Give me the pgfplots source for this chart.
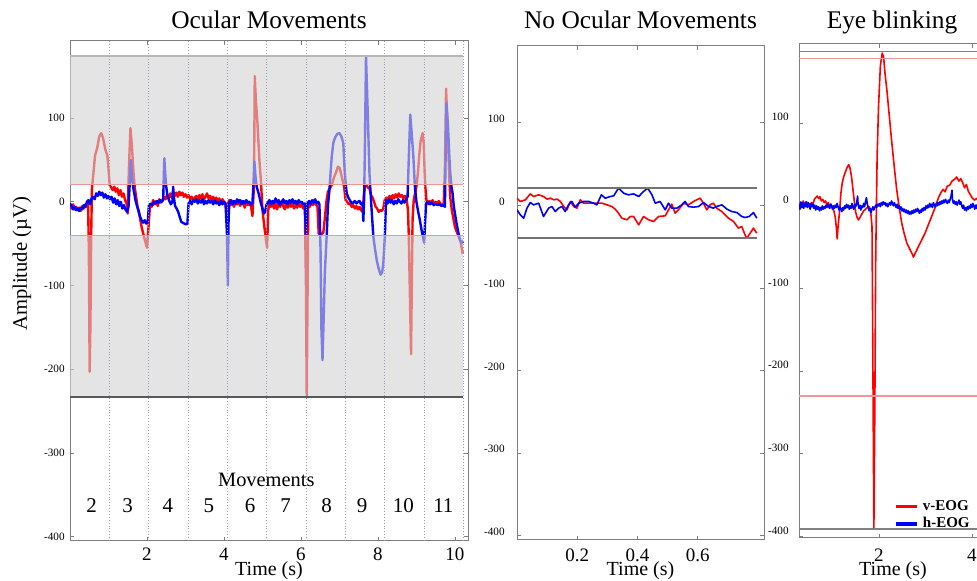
\documentclass[border=0pt]{standalone}
\usepackage{fontspec}
\setmainfont{Liberation Serif}
\usepackage{pgfplots}
\pgfplotsset{compat=1.18}

\definecolor{vred}{RGB}{255,0,0}
\definecolor{hblue}{RGB}{0,0,255}
\definecolor{thr}{RGB}{240,150,150}
\definecolor{shade}{RGB}{210,210,210}
\definecolor{frame}{RGB}{125,125,125}
\definecolor{divider}{RGB}{165,150,190}

\pgfplotsset{
  eog/.style={
    scale only axis,
    axis line style={frame, line width=0.5pt},
    tick style={frame, line width=0.4pt},
    major tick length=2pt,
    ytick={-400,-300,-200,-100,0,100},
    yticklabels={-400,-300,-200,-100,0,100},
    yticklabel style={font=\fontsize{5.6}{6}\selectfont, anchor=east, inner sep=0pt},
    xticklabel style={font=\fontsize{9.5}{10}\selectfont, anchor=base, inner sep=0pt},
    every axis title/.style={anchor=base, font=\fontsize{12.7}{14}\selectfont},
    every axis x label/.style={anchor=base, font=\fontsize{10}{12}\selectfont},
    xlabel={Time (s)},
  },
  sig/.style={line width=1.2pt, line join=round},
}

\begin{document}
\begin{tikzpicture}

% ---------------- Ocular Movements ----------------
\begin{axis}[eog,
  at={(35pt,20pt)}, anchor=south west,
  width=199pt, height=250pt,
  xmin=0, xmax=10.34, ymin=-405, ymax=192,
  xtick={2,4,6,8,10}, xticklabels={2,4,6,8,10},
  xticklabel style={yshift=-9.8pt},
  yticklabel style={xshift=-2.5pt},
  title={Ocular Movements},
  title style={at={(0.5,1)}, yshift=6pt},
  xlabel style={at={(0.5,0)}, yshift=-17.5pt},
  ylabel={Amplitude (µV)},
  every axis y label/.style={at={(-0.1206,0.554)}, rotate=90, anchor=center, font=\fontsize{10.3}{12}\selectfont},
]
\addplot[sig, vred] coordinates {
(0.00,-4)(0.04,-8)(0.08,-3)(0.12,-9)(0.16,-6)(0.20,-10)(0.24,-7)(0.28,-11)(0.32,-5)(0.36,-8)(0.40,-3)(0.44,-6)(0.47,-2)(0.49,-60)(0.51,-203)(0.53,-150)(0.55,-40)(0.57,15)(0.60,30)(0.65,55)(0.71,65)(0.76,78)(0.81,82)(0.86,76)(0.92,62)(0.97,55)(1.00,40)(1.03,20)(1.07,17)(1.11,14)(1.15,18)(1.19,12)(1.23,16)(1.27,8)(1.31,14)(1.35,6)(1.39,10)(1.43,2)(1.47,-2)(1.50,-14)(1.53,40)(1.57,88)(1.61,65)(1.65,35)(1.68,18)(1.72,5)(1.76,-8)(1.81,-17)(1.86,-30)(1.94,-45)(2.00,-55)(2.04,-30)(2.08,-3)(2.12,-6)(2.16,2)(2.20,-3)(2.24,1)(2.28,-5)(2.32,3)(2.36,-1)(2.40,2)(2.44,6)(2.48,3)(2.52,8)(2.56,4)(2.60,10)(2.64,5)(2.68,12)(2.72,7)(2.76,11)(2.80,6)(2.84,12)(2.88,8)(2.92,11)(2.96,6)(3.00,9)(3.04,5)(3.08,8)(3.12,3)(3.16,6)(3.20,1)(3.24,5)(3.28,7)(3.32,2)(3.36,8)(3.40,4)(3.44,9)(3.48,3)(3.52,6)(3.56,10)(3.60,4)(3.64,7)(3.68,2)(3.72,6)(3.76,1)(3.80,5)(3.84,0)(3.88,4)(3.92,-1)(3.96,3)(4.00,0)(4.04,-3)(4.07,-12)(4.10,-2)(4.14,2)(4.18,-4)(4.22,1)(4.26,-6)(4.30,0)(4.34,-3)(4.38,2)(4.42,-5)(4.46,1)(4.50,-2)(4.54,-7)(4.58,0)(4.62,-4)(4.66,-1)(4.70,-5)(4.74,-17)(4.78,20)(4.80,150)(4.83,120)(4.87,94)(4.92,50)(4.96,25)(5.00,-10)(5.05,-30)(5.09,-45)(5.12,-55)(5.15,-10)(5.18,-2)(5.22,-6)(5.26,0)(5.30,-8)(5.34,-3)(5.38,-9)(5.42,-2)(5.46,-6)(5.50,1)(5.54,-5)(5.58,-9)(5.62,-3)(5.66,-7)(5.70,-1)(5.74,-6)(5.78,-2)(5.82,-8)(5.86,-4)(5.90,-7)(5.94,-2)(5.98,-6)(6.02,-3)(6.06,-8)(6.10,-4)(6.13,-100)(6.15,-233)(6.17,-120)(6.19,-2)(6.23,-6)(6.27,0)(6.31,-4)(6.35,2)(6.39,-3)(6.43,-6)(6.46,-38)(6.50,-39)(6.55,-38)(6.58,-37)(6.62,-20)(6.66,0)(6.70,12)(6.75,16)(6.80,20)(6.85,28)(6.91,35)(6.96,42)(7.01,40)(7.06,30)(7.12,18)(7.16,2)(7.20,0)(7.24,-3)(7.28,-2)(7.32,-6)(7.36,-4)(7.40,-8)(7.44,-5)(7.48,-9)(7.52,-6)(7.56,-10)(7.60,-12)(7.63,5)(7.66,18)(7.70,20)(7.74,17)(7.78,16)(7.82,8)(7.86,5)(7.90,0)(7.94,-6)(7.98,-8)(8.02,-12)(8.06,-10)(8.10,-11)(8.14,-8)(8.18,3)(8.22,5)(8.26,2)(8.30,7)(8.34,3)(8.38,8)(8.42,4)(8.46,9)(8.50,5)(8.54,10)(8.58,6)(8.62,8)(8.66,4)(8.70,7)(8.74,5)(8.78,-10)(8.80,-38)(8.83,-110)(8.86,-182)(8.88,-100)(8.90,-20)(8.93,2)(9.00,18)(9.04,35)(9.07,54)(9.11,73)(9.16,82)(9.19,70)(9.21,40)(9.23,18)(9.26,2)(9.30,-3)(9.34,1)(9.38,-2)(9.42,2)(9.46,-4)(9.50,0)(9.54,-3)(9.58,1)(9.62,-2)(9.66,-4)(9.71,-2)(9.74,40)(9.77,135)(9.81,90)(9.85,30)(9.88,5)(9.92,-10)(9.96,-20)(10.00,-30)(10.04,-35)(10.10,-42)(10.15,-48)(10.20,-62)
};
\addplot[sig, hblue] coordinates {
(0.00,-2)(0.04,-5)(0.08,-9)(0.12,-6)(0.16,-10)(0.20,-8)(0.24,-11)(0.28,-7)(0.32,-9)(0.36,-4)(0.40,-6)(0.44,0)(0.48,2)(0.52,-3)(0.56,4)(0.60,6)(0.64,3)(0.68,10)(0.72,7)(0.76,12)(0.80,8)(0.84,11)(0.88,5)(0.92,9)(0.96,4)(1.00,7)(1.04,3)(1.08,6)(1.12,-1)(1.16,4)(1.20,-3)(1.24,2)(1.28,-5)(1.32,0)(1.36,-8)(1.40,-4)(1.44,-9)(1.48,-12)(1.52,-6)(1.55,20)(1.58,50)(1.61,30)(1.64,18)(1.67,10)(1.70,2)(1.74,-5)(1.78,-10)(1.82,-18)(1.86,-22)(1.90,-25)(1.94,-22)(1.98,-26)(2.02,-24)(2.05,-4)(2.10,-2)(2.14,-4)(2.18,0)(2.22,-2)(2.26,1)(2.30,-1)(2.34,2)(2.38,0)(2.42,2)(2.45,52)(2.48,30)(2.50,18)(2.53,8)(2.57,2)(2.62,-3)(2.66,0)(2.68,18)(2.70,5)(2.73,-5)(2.77,-8)(2.81,-12)(2.85,-18)(2.89,-24)(2.93,-25)(2.97,-26)(3.01,-27)(3.05,-26)(3.08,-2)(3.12,1)(3.16,-3)(3.20,2)(3.24,0)(3.28,3)(3.32,-2)(3.36,2)(3.40,-1)(3.44,3)(3.48,-3)(3.52,1)(3.56,-2)(3.60,2)(3.64,-1)(3.68,1)(3.72,-3)(3.76,2)(3.80,-2)(3.84,0)(3.88,-4)(3.92,1)(3.96,-3)(4.00,0)(4.04,-2)(4.08,-40)(4.10,-100)(4.12,-20)(4.14,-1)(4.18,2)(4.22,-3)(4.26,1)(4.30,-2)(4.34,3)(4.38,-1)(4.42,2)(4.46,-3)(4.50,1)(4.54,-2)(4.58,2)(4.62,-1)(4.66,0)(4.70,-4)(4.74,-1)(4.77,25)(4.79,48)(4.82,30)(4.85,18)(4.90,10)(4.95,0)(5.00,-8)(5.04,-14)(5.07,-12)(5.10,-4)(5.14,-1)(5.18,2)(5.22,-3)(5.26,1)(5.30,-2)(5.34,4)(5.38,-1)(5.42,2)(5.46,-4)(5.50,0)(5.54,3)(5.58,-2)(5.62,1)(5.66,-3)(5.70,2)(5.74,-1)(5.78,3)(5.82,-2)(5.86,1)(5.90,-3)(5.94,2)(5.98,-1)(6.02,0)(6.06,-3)(6.10,-2)(6.13,-39)(6.15,-20)(6.17,-2)(6.21,1)(6.25,-3)(6.29,2)(6.33,-1)(6.37,3)(6.41,-2)(6.45,0)(6.48,-3)(6.51,-60)(6.53,-150)(6.56,-189)(6.59,-140)(6.62,-85)(6.67,-39)(6.70,-5)(6.74,14)(6.77,35)(6.80,54)(6.84,70)(6.88,76)(6.94,81)(7.00,82)(7.05,78)(7.10,70)(7.12,50)(7.14,34)(7.17,18)(7.19,10)(7.23,5)(7.27,2)(7.32,-2)(7.36,-1)(7.40,1)(7.44,-2)(7.48,0)(7.52,1)(7.56,-3)(7.60,-1)(7.62,-23)(7.64,2)(7.66,60)(7.69,174)(7.73,114)(7.78,34)(7.82,2)(7.85,-20)(7.88,-41)(7.92,-55)(7.97,-70)(8.02,-80)(8.07,-87)(8.11,-84)(8.14,-73)(8.18,-41)(8.21,2)(8.25,-2)(8.29,3)(8.33,-1)(8.37,2)(8.41,-3)(8.45,1)(8.49,-2)(8.53,3)(8.57,0)(8.61,-2)(8.65,2)(8.69,-1)(8.73,3)(8.77,6)(8.80,50)(8.84,104)(8.88,80)(8.92,54)(8.96,18)(9.00,0)(9.05,-13)(9.09,-22)(9.13,-33)(9.17,-42)(9.20,-49)(9.23,-20)(9.25,-2)(9.31,0)(9.35,-3)(9.40,-1)(9.45,-4)(9.50,-2)(9.55,-4)(9.60,-3)(9.65,-5)(9.70,-4)(9.74,-6)(9.76,60)(9.78,118)(9.82,90)(9.87,40)(9.91,18)(9.94,10)(9.97,-5)(10.00,-14)(10.04,-25)(10.09,-37)(10.13,-45)(10.17,-49)(10.22,-47)
};
% shaded zones outside the threshold band
\addplot[draw=none, fill=shade, fill opacity=0.6] coordinates {(0,20.5)(10.22,20.5)(10.22,174)(0,174)} -- cycle;
\addplot[draw=none, fill=shade, fill opacity=0.6] coordinates {(0,-40)(10.22,-40)(10.22,-233)(0,-233)} -- cycle;
\addplot[thr, line width=0.6pt] coordinates {(0,20.5)(10.22,20.5)};
\addplot[thr, line width=0.6pt] coordinates {(0,-40)(10.22,-40)};
\addplot[black!28, line width=1pt] coordinates {(0,174)(10.22,174)};
\addplot[black!65, line width=0.6pt] coordinates {(0,-233)(10.22,-233)};
% movement dividers
\addplot[divider, densely dotted, line width=0.45pt, unbounded coords=jump] coordinates {
(1.022,-405)(1.022,192)(nan,nan)(2.044,-405)(2.044,192)(nan,nan)(3.066,-405)(3.066,192)(nan,nan)
(4.088,-405)(4.088,192)(nan,nan)(5.110,-405)(5.110,192)(nan,nan)(6.132,-405)(6.132,192)(nan,nan)
(7.154,-405)(7.154,192)(nan,nan)(8.176,-405)(8.176,192)(nan,nan)(9.198,-405)(9.198,192)(nan,nan)
(10.22,-405)(10.22,192)
};
\node[anchor=base, font=\fontsize{10.2}{12}\selectfont] at (axis cs:5.1,-340) {Movements};
\node[anchor=base, font=\fontsize{10.5}{12}\selectfont] at (axis cs:0.56,-371) {2};
\node[anchor=base, font=\fontsize{10.5}{12}\selectfont] at (axis cs:1.50,-371) {3};
\node[anchor=base, font=\fontsize{10.5}{12}\selectfont] at (axis cs:2.54,-371) {4};
\node[anchor=base, font=\fontsize{10.5}{12}\selectfont] at (axis cs:3.61,-371) {5};
\node[anchor=base, font=\fontsize{10.5}{12}\selectfont] at (axis cs:4.68,-371) {6};
\node[anchor=base, font=\fontsize{10.5}{12}\selectfont] at (axis cs:5.60,-371) {7};
\node[anchor=base, font=\fontsize{10.5}{12}\selectfont] at (axis cs:6.67,-371) {8};
\node[anchor=base, font=\fontsize{10.5}{12}\selectfont] at (axis cs:7.59,-371) {9};
\node[anchor=base, font=\fontsize{10.5}{12}\selectfont] at (axis cs:8.66,-371) {10};
\node[anchor=base, font=\fontsize{10.5}{12}\selectfont] at (axis cs:9.70,-371) {11};
\end{axis}

% ---------------- No Ocular Movements ----------------
\begin{axis}[eog,
  at={(258.5pt,20.5pt)}, anchor=south west,
  width=123.5pt, height=247pt,
  xmin=0, xmax=0.82, ymin=-405, ymax=193,
  xtick={0.2,0.4,0.6}, xticklabels={0.2,0.4,0.6},
  xticklabel style={yshift=-10.8pt},
  yticklabel style={xshift=-6pt, yshift=2pt},
  title={No Ocular Movements},
  title style={at={(0.5,1)}, yshift=8.5pt},
  xlabel style={at={(0.5,0)}, yshift=-18pt},
]
\addplot[vred, line width=0.8pt, line join=round] coordinates {
(0.000,8.8)(0.011,4.8)(0.028,6.8)(0.044,14.0)(0.055,10.8)(0.072,12.8)(0.088,10.8)(0.100,7.6)(0.111,8.8)(0.122,6.8)(0.133,7.6)(0.144,4.8)(0.155,-1.3)(0.166,-5.3)(0.177,4.8)(0.188,-1.3)(0.199,-3.3)(0.210,6.8)(0.221,2.7)(0.232,2.7)(0.249,2.7)(0.265,2.7)(0.282,2.7)(0.299,0.7)(0.315,-1.3)(0.326,-4.5)(0.337,-9.4)(0.348,-15.4)(0.365,-17.4)(0.376,-13.4)(0.387,-13.4)(0.404,-23.5)(0.420,-13.4)(0.437,-17.4)(0.453,-19.5)(0.470,-13.4)(0.492,-12.6)(0.503,-5.3)(0.514,1.5)(0.525,-9.4)(0.536,-5.3)(0.553,2.7)(0.569,0.7)(0.586,4.8)(0.597,6.8)(0.608,8.8)(0.619,2.7)(0.630,-5.3)(0.641,0.7)(0.652,2.7)(0.663,-3.3)(0.680,-7.4)(0.702,-15.4)(0.719,-19.5)(0.735,-27.5)(0.746,-25.5)(0.757,-35.6)(0.763,-39.6)(0.774,-33.6)(0.785,-27.5)(0.796,-33.6)
};
\addplot[hblue, line width=0.8pt, line join=round] coordinates {
(0.000,-5.3)(0.011,-11.4)(0.022,-15.4)(0.033,-3.3)(0.044,3.5)(0.055,0.7)(0.072,2.7)(0.088,-13.4)(0.105,-3.3)(0.116,-1.3)(0.127,-7.4)(0.138,-3.3)(0.149,-1.3)(0.160,-7.4)(0.171,0.7)(0.182,4.8)(0.193,-2.1)(0.205,2.7)(0.221,4.8)(0.238,4.8)(0.254,2.7)(0.265,0.7)(0.280,12.8)(0.293,8.8)(0.310,10.8)(0.321,11.6)(0.337,20.9)(0.354,14.8)(0.370,12.8)(0.387,14.0)(0.404,10.8)(0.420,16.9)(0.434,20.9)(0.448,12.8)(0.459,2.7)(0.475,4.8)(0.492,-5.3)(0.503,2.7)(0.514,-3.3)(0.531,-3.3)(0.547,0.7)(0.558,4.8)(0.569,-1.3)(0.586,-2.1)(0.603,-1.3)(0.619,3.5)(0.636,-1.3)(0.652,-3.3)(0.663,-1.3)(0.680,0.7)(0.697,-4.5)(0.713,-7.4)(0.730,-8.6)(0.746,-13.4)(0.757,-14.6)(0.771,-13.4)(0.785,-8.6)(0.796,-15.4)
};
\addplot[black!55, line width=0.6pt] coordinates {(0,21)(0.796,21)};
\addplot[black!55, line width=0.6pt] coordinates {(0,-39.5)(0.796,-39.5)};
\end{axis}

% ---------------- Eye blinking ----------------
\begin{axis}[eog,
  at={(399.5pt,21.5pt)}, anchor=south west,
  width=98.1pt, height=247pt,
  xmin=0.28, xmax=4.5, ymin=-402, ymax=196,
  xtick={2,4}, xticklabels={2,4},
  xticklabel style={yshift=-11.8pt},
  yticklabel style={xshift=-5pt, yshift=3pt},
  title={Eye blinking},
  title style={at={(0.474,1)}, yshift=7.5pt},
  xlabel style={at={(0.479,0)}, yshift=-19pt},
  legend style={at={(axis cs:2.33,-351)}, anchor=north west, draw=none, fill=none,
    font=\fontsize{7.5}{7}\selectfont\bfseries, inner sep=0pt, row sep=-2pt},
  legend cell align=left,
  legend image code/.code={\draw[#1, line width=1.6pt] (0pt,0pt) -- (10.5pt,0pt);},
]
\addplot[vred, line width=0.8pt, line join=round] coordinates {
(0.28,-3)(0.31,4)(0.34,-2)(0.37,6)(0.40,1)(0.43,5)(0.46,-1)(0.49,3)(0.52,0)(0.55,4)(0.58,2)(0.61,8)(0.64,10)(0.67,12)(0.70,9)(0.73,11)(0.76,6)(0.79,8)(0.82,4)(0.85,6)(0.88,2)(0.91,4)(0.94,0)(0.97,2)(1.00,-3)(1.03,-6)(1.06,-14)(1.09,-30)(1.10,-40)(1.12,-25)(1.15,-8)(1.18,15)(1.21,28)(1.24,35)(1.27,40)(1.31,46)(1.35,50)(1.38,45)(1.41,35)(1.44,20)(1.47,5)(1.50,-8)(1.53,-14)(1.56,-17)(1.59,-14)(1.63,-10)(1.67,-6)(1.71,-4)(1.75,-2)(1.79,-1)(1.82,-6)(1.85,-25)(1.87,-200)(1.89,-391)(1.91,-250)(1.93,-60)(1.96,60)(1.99,120)(2.03,170)(2.07,185)(2.10,180)(2.13,160)(2.17,140)(2.22,110)(2.27,80)(2.32,52)(2.38,20)(2.43,0)(2.49,-21)(2.54,-33)(2.60,-45)(2.66,-52)(2.72,-59)(2.74,-62)(2.79,-56)(2.85,-49)(2.92,-41)(2.99,-33)(3.06,-23)(3.13,-13)(3.20,-3)(3.28,10)(3.33,16)(3.38,20)(3.42,17)(3.47,24)(3.52,25)(3.57,30)(3.62,32)(3.67,35)(3.72,30)(3.76,33)(3.80,28)(3.84,22)(3.88,26)(3.92,18)(3.96,14)(4.00,10)(4.05,7)(4.10,9)(4.15,5)(4.20,4)(4.30,2)
};
\addlegendentry{v-EOG}
\addplot[hblue, line width=0.8pt, line join=round] coordinates {
(0.28,2)(0.30,-4)(0.32,5)(0.34,-2)(0.36,4)(0.38,-3)(0.40,3)(0.42,-1)(0.44,5)(0.46,-2)(0.48,4)(0.50,0)(0.52,-4)(0.54,3)(0.56,-1)(0.58,2)(0.60,-3)(0.62,1)(0.64,-5)(0.66,0)(0.68,-4)(0.70,-1)(0.72,-6)(0.74,-2)(0.76,-5)(0.78,0)(0.80,-4)(0.82,-1)(0.84,-3)(0.86,1)(0.88,-2)(0.90,2)(0.92,-1)(0.94,-3)(0.96,2)(0.98,0)(1.00,-4)(1.02,0)(1.04,-3)(1.06,1)(1.08,-2)(1.10,3)(1.12,-1)(1.14,-5)(1.16,-1)(1.18,-4)(1.20,-7)(1.22,-2)(1.24,-5)(1.26,0)(1.28,-3)(1.30,2)(1.32,-2)(1.34,1)(1.36,-4)(1.38,0)(1.40,-3)(1.42,3)(1.44,-2)(1.46,-4)(1.48,2)(1.50,-1)(1.52,4)(1.54,12)(1.55,2)(1.57,-3)(1.59,1)(1.61,-5)(1.63,0)(1.65,-2)(1.67,3)(1.69,-1)(1.71,5)(1.73,10)(1.75,2)(1.77,-2)(1.79,-6)(1.81,-3)(1.83,-8)(1.85,-4)(1.87,-1)(1.89,-5)(1.91,-2)(1.93,1)(1.95,-2)(1.97,2)(1.99,0)(2.01,3)(2.03,-1)(2.05,4)(2.07,1)(2.09,5)(2.11,2)(2.13,4)(2.15,0)(2.17,3)(2.19,-1)(2.21,2)(2.23,4)(2.25,1)(2.27,6)(2.29,3)(2.31,0)(2.33,4)(2.35,1)(2.37,-2)(2.39,2)(2.41,-3)(2.43,0)(2.45,-4)(2.47,-1)(2.49,-6)(2.51,-3)(2.53,-7)(2.55,-4)(2.57,-8)(2.59,-5)(2.61,-9)(2.63,-6)(2.65,-10)(2.67,-7)(2.69,-10)(2.71,-6)(2.73,-9)(2.75,-5)(2.77,-8)(2.79,-4)(2.81,-7)(2.83,-3)(2.85,-6)(2.87,-9)(2.89,-5)(2.91,-8)(2.93,-3)(2.95,-6)(2.97,-2)(2.99,-5)(3.01,0)(3.03,-3)(3.05,1)(3.07,-2)(3.09,3)(3.11,-1)(3.13,2)(3.15,-2)(3.17,4)(3.19,1)(3.21,-1)(3.23,3)(3.25,0)(3.27,4)(3.29,1)(3.31,5)(3.33,2)(3.35,6)(3.37,3)(3.39,7)(3.41,4)(3.43,8)(3.45,5)(3.47,3)(3.49,7)(3.51,4)(3.53,8)(3.55,12)(3.57,19)(3.58,8)(3.60,3)(3.62,6)(3.64,2)(3.66,5)(3.68,1)(3.70,4)(3.72,7)(3.74,2)(3.76,5)(3.78,0)(3.80,-3)(3.82,1)(3.84,-5)(3.86,-2)(3.88,-6)(3.90,-1)(3.92,-4)(3.94,0)(3.96,-3)(3.98,2)(4.00,-2)(4.02,3)(4.04,0)(4.06,-4)(4.08,1)(4.10,-3)(4.12,2)(4.14,-2)(4.20,1)(4.30,-2)
};
\addlegendentry{h-EOG}
\addplot[forget plot, thr, line width=0.6pt] coordinates {(0.28,178)(4.5,178)};
\addplot[forget plot, thr, line width=0.6pt] coordinates {(0.28,-230)(4.5,-230)};
\addplot[forget plot, black!50, line width=0.6pt] coordinates {(0.28,187)(4.5,187)};
\addplot[forget plot, black!50, line width=0.6pt] coordinates {(0.28,-391)(4.5,-391)};
\end{axis}

\pgfresetboundingbox
\path[use as bounding box] (0,0) rectangle (488.5pt,290.5pt);
\end{tikzpicture}
\end{document}
